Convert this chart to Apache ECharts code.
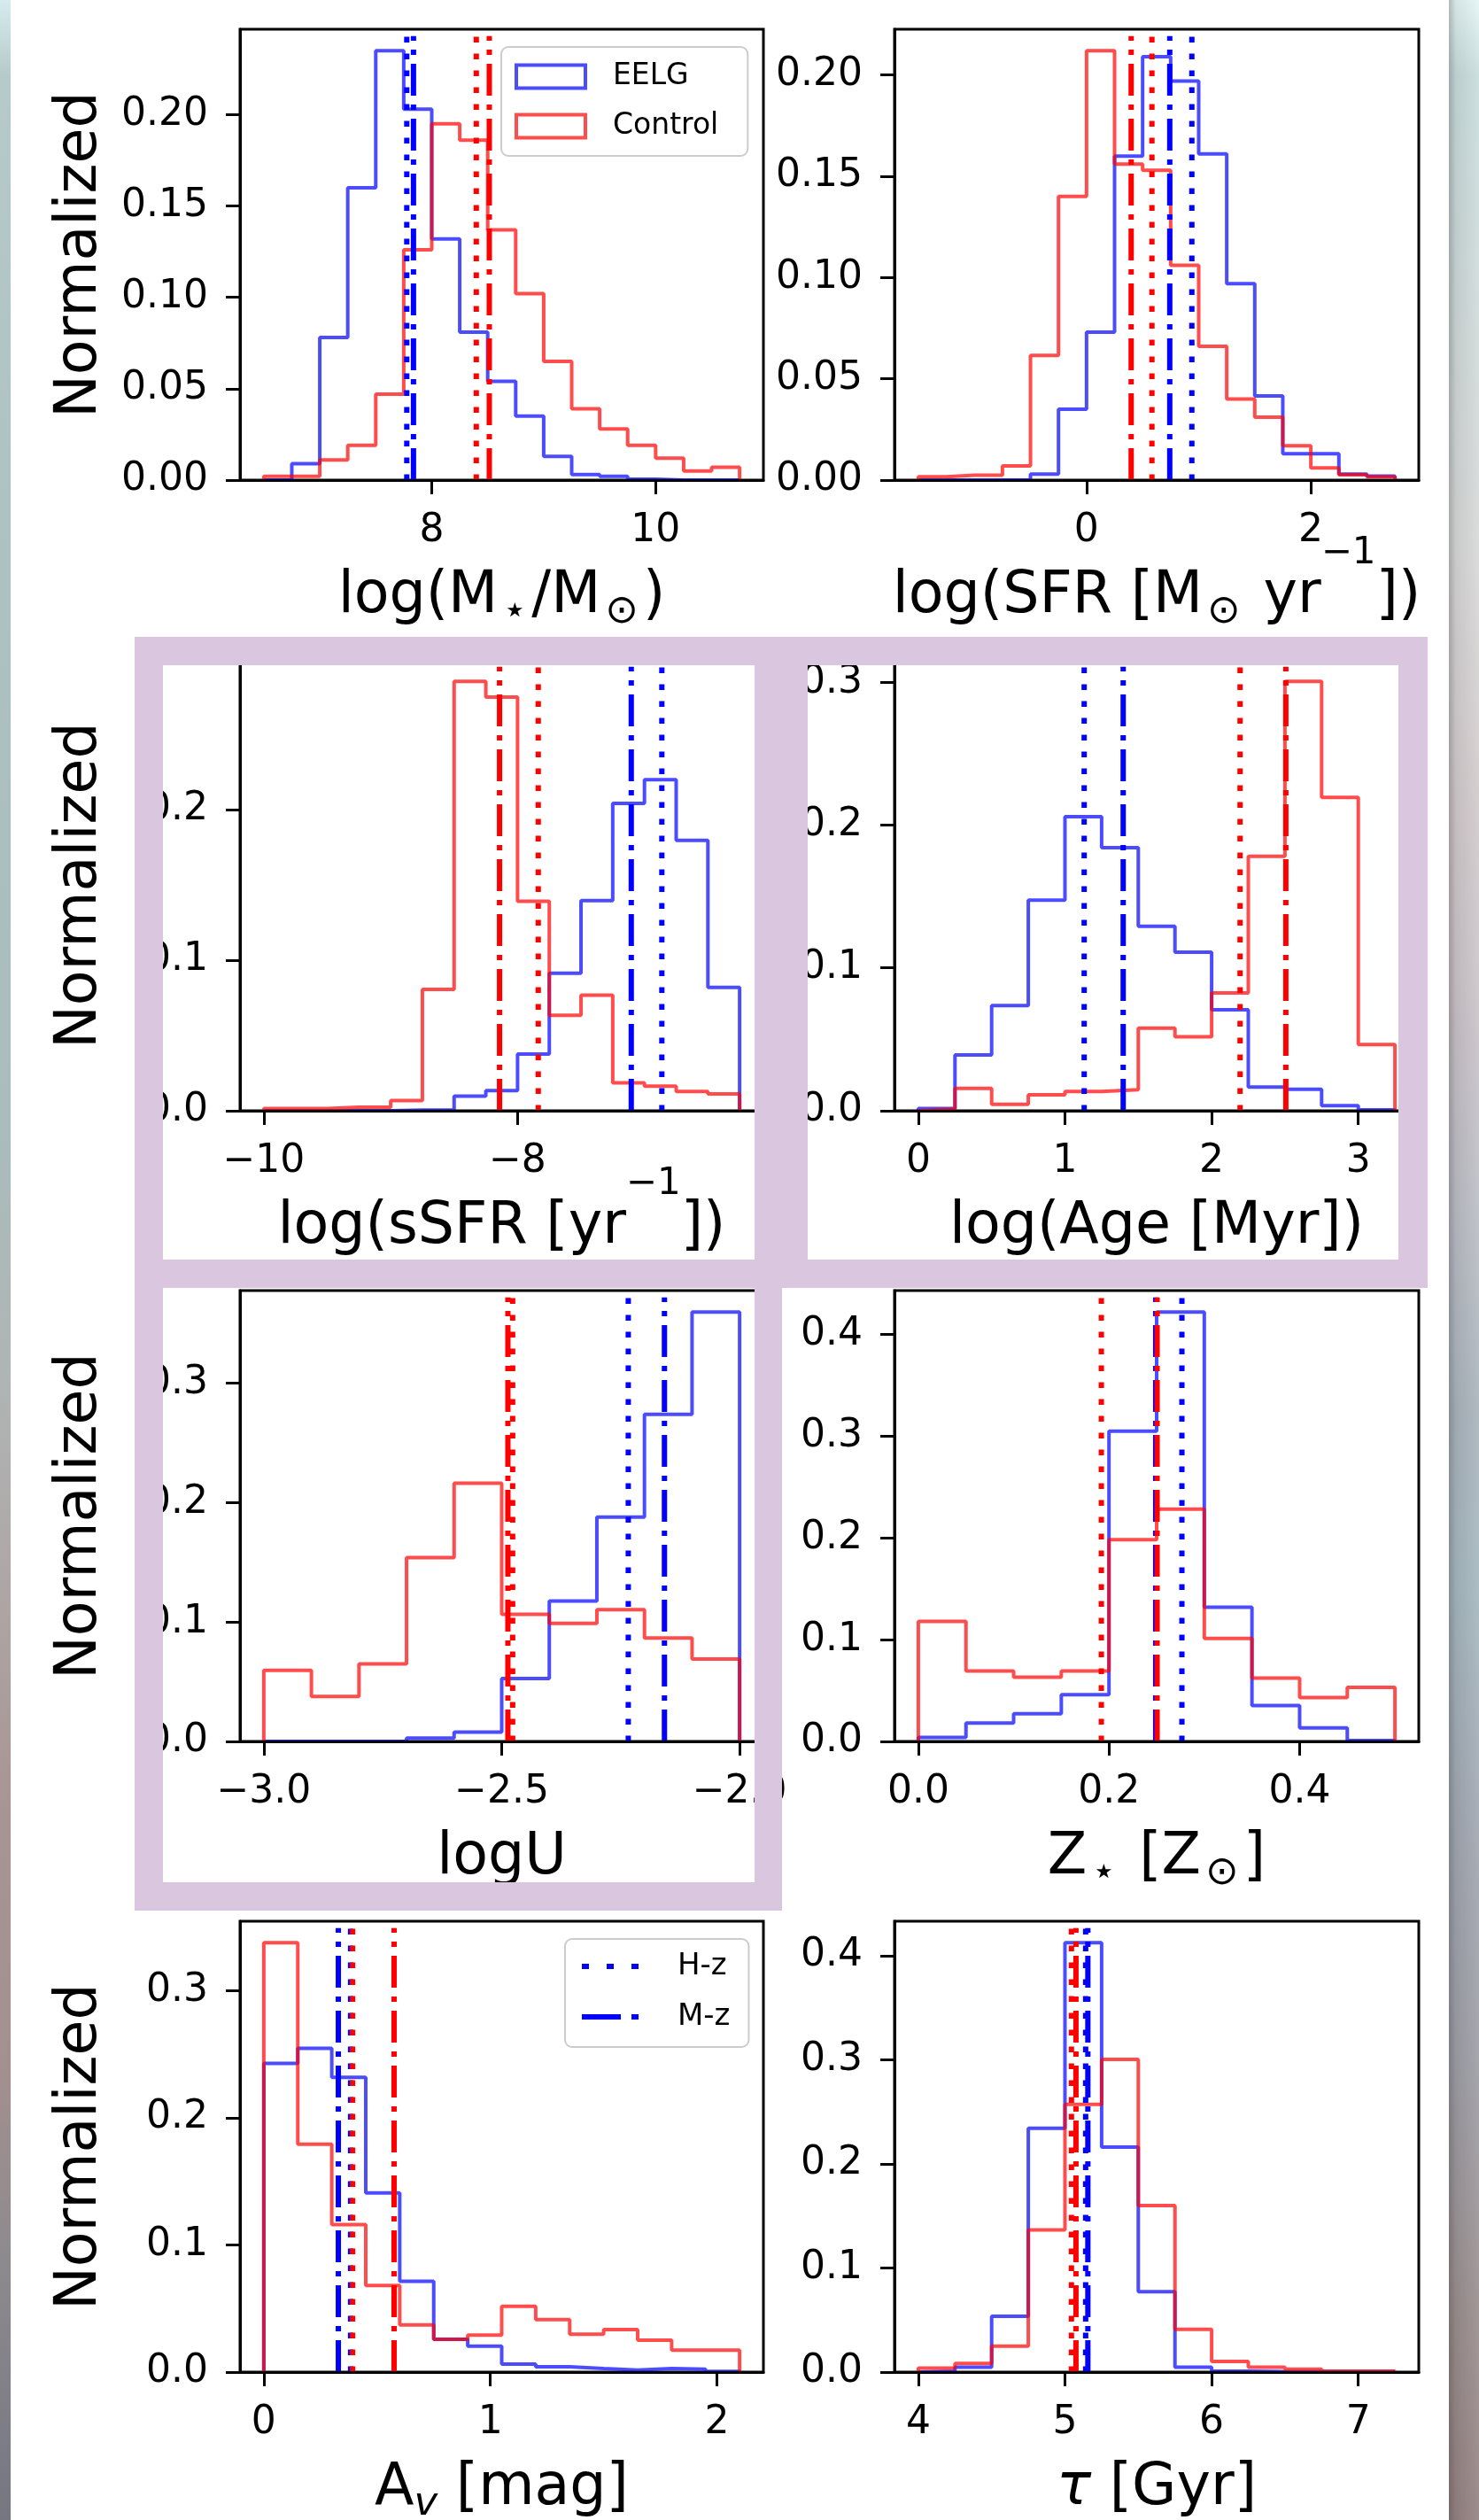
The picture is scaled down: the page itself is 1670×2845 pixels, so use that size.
<!DOCTYPE html>
<html><head><meta charset="utf-8">
<script src="https://cdn.jsdelivr.net/npm/echarts@6.0.0/dist/echarts.min.js"></script>
<style>
html,body{margin:0;padding:0;background:#fff;}
#wrap{position:relative;width:1670px;height:2845px;overflow:hidden;background:#fff;}
#stripL{position:absolute;left:0;top:0;width:12px;height:2845px;
 background:linear-gradient(to bottom,#d6ecec 0%,#b6caca 3%,#aec2c2 20%,#aabcbc 45%,#b0b4b4 55%,#aea6a6 63%,#a89494 72%,#a39090 82%,#8c8a8e 90%,#767680 100%);}
#stripR{position:absolute;left:1636px;top:0;width:34px;height:2845px;
 background:linear-gradient(to right,rgba(40,40,40,0.28) 0px,rgba(40,40,40,0.08) 8px,rgba(255,255,255,0.08) 34px),
 linear-gradient(to bottom,#e4f4f4 0%,#c8dcdc 3%,#d0dada 12%,#d8d8d8 22%,#d2cacc 32%,#cbc3c9 40%,#bcbec6 48%,#aab4bc 56%,#a6b8c0 63%,#a2a8b2 72%,#9e9ea6 82%,#9a8e8e 92%,#958282 100%);}
#chart{position:absolute;left:0;top:0;width:1670px;height:2845px;}
</style></head>
<body><div id="wrap"><div id="stripL"></div><div id="stripR"></div><div id="chart"></div></div>
<script>
// ---------------- DATA ----------------
// log(M*/Msun)
const massEdges   = [6.5,6.75,7.0,7.25,7.5,7.75,8.0,8.25,8.5,8.75,9.0,9.25,9.5,9.75,10.0,10.25,10.5,10.75];
const massEELG    = [0,0.009,0.078,0.160,0.235,0.203,0.132,0.081,0.054,0.035,0.013,0.003,0.002,0.0005,0,0,0];
const massControl = [0.002,0.002,0.011,0.019,0.047,0.126,0.195,0.186,0.137,0.102,0.065,0.039,0.028,0.019,0.012,0.005,0.007];
const massMedians = [7.777,7.837,8.398,8.514]; // EELG H-z, EELG M-z, Control H-z, Control M-z
const massXTicks  = [8,10];
const massYTicks  = [0,0.05,0.10,0.15,0.20];
// log(SFR)
const sfrEdges    = [-1.5,-1.25,-1.0,-0.75,-0.5,-0.25,0,0.25,0.5,0.75,1.0,1.25,1.5,1.75,2.0,2.25,2.5,2.75];
const sfrEELG     = [0,0,0,0,0.003,0.035,0.073,0.160,0.209,0.197,0.161,0.097,0.0415,0.013,0.013,0.003,0.002];
const sfrControl  = [0.0016,0.0024,0.0024,0.007,0.0616,0.140,0.212,0.156,0.153,0.106,0.066,0.040,0.031,0.017,0.006,0.0026,0.0016];
const sfrMedians  = [0.939,0.742,0.583,0.398];
const sfrXTicks   = [0,2];
const sfrYTicks   = [0,0.05,0.10,0.15,0.20];
// log(sSFR)
const ssfrEdges   = [-10,-9.75,-9.5,-9.25,-9,-8.75,-8.5,-8.25,-8,-7.75,-7.5,-7.25,-7,-6.75,-6.5,-6.25];
const ssfrEELG    = [0,0,0,0,0.0005,0.0005,0.0097,0.0134,0.0377,0.0913,0.1395,0.204,0.2197,0.1795,0.0819];
const ssfrControl = [0.0014,0.0014,0.0023,0.0023,0.0068,0.0805,0.285,0.2745,0.139,0.0633,0.0767,0.0185,0.0163,0.0128,0.0111];
const ssfrMedians = [-6.863,-7.104,-7.837,-8.142];
const ssfrXTicks  = [-10,-8];
const ssfrYTicks  = [0,0.1,0.2];
// log(Age)
const ageEdges    = [0,0.25,0.5,0.75,1.0,1.25,1.5,1.75,2.0,2.25,2.5,2.75,3.0,3.25];
const ageEELG     = [0.0015,0.0391,0.0737,0.1475,0.2058,0.1842,0.1291,0.111,0.0707,0.0166,0.015,0.0036,0.0006];
const ageControl  = [0.0012,0.0156,0.0045,0.0111,0.0135,0.0147,0.0578,0.0518,0.0825,0.1782,0.3006,0.2194,0.0463];
const ageMedians  = [1.131,1.397,2.194,2.506];
const ageXTicks   = [0,1,2,3];
const ageYTicks   = [0,0.1,0.2,0.3];
// logU
const loguEdges   = [-3.0,-2.9,-2.8,-2.7,-2.6,-2.5,-2.4,-2.3,-2.2,-2.1,-2.0];
const loguEELG    = [0,0,0,0.0027,0.0078,0.0527,0.1176,0.1879,0.2739,0.3595];
const loguControl = [0.0595,0.0377,0.0649,0.1539,0.2161,0.1064,0.0989,0.1104,0.0866,0.069];
const loguMedians = [-2.234,-2.158,-2.477,-2.487];
const loguXTicks  = [-3.0,-2.5,-2.0];
const loguYTicks  = [0,0.1,0.2,0.3];
// Z*
const zEdges      = [0,0.05,0.1,0.15,0.2,0.25,0.3,0.35,0.4,0.45,0.5];
const zEELG       = [0.004,0.018,0.0272,0.046,0.305,0.422,0.1319,0.0352,0.0132,0.0008];
const zControl    = [0.1179,0.0691,0.0631,0.0691,0.1982,0.2282,0.1011,0.0623,0.0432,0.0532];
const zMedians    = [0.2765,0.249,0.192,0.2505];
const zXTicks     = [0.0,0.2,0.4];
const zYTicks     = [0,0.1,0.2,0.3,0.4];
// Av
const avEdges     = [0,0.15,0.3,0.45,0.6,0.75,0.9,1.05,1.2,1.35,1.5,1.65,1.8,1.95,2.1];
const avEELG      = [0.2427,0.2546,0.2318,0.1409,0.0714,0.0257,0.0204,0.0063,0.0041,0.0028,0.0016,0.0028,0.0022,0.0006];
const avControl   = [0.3376,0.1791,0.1159,0.068,0.037,0.0257,0.0291,0.0517,0.0413,0.0298,0.0335,0.0251,0.0172,0.0172];
const avMedians   = [0.383,0.329,0.392,0.575];
const avXTicks    = [0,1,2];
const avYTicks    = [0,0.1,0.2,0.3];
// tau
const tauEdges    = [4,4.25,4.5,4.75,5,5.25,5.5,5.75,6,6.25,6.5,6.75,7,7.25];
const tauEELG     = [0.0008,0.0046,0.0536,0.2342,0.4125,0.2162,0.0773,0.0046,0.0008,0.0004,0.0004,0.0004,0.0004];
const tauControl  = [0.0038,0.0084,0.0249,0.1366,0.2572,0.3004,0.16,0.041,0.0103,0.0046,0.0027,0.0008,0.0008];
const tauMedians  = [5.141,5.156,5.044,5.075];
const tauXTicks   = [4,5,6,7];
const tauYTicks   = [0,0.1,0.2,0.3,0.4];

// ---------------- STYLE / LAYOUT ----------------
const F = 'DejaVu Sans';
const BLUE_H = 'rgba(0,0,255,0.7)', RED_H = 'rgba(255,0,0,0.7)';
const DOT = [6.5,12.5], DASHDOT = [36,10,6,10];
const ROW_TOP = [33,745,1457,2169], PH = 509, COL_LEFT = [271,1010], PW = [591,592];
const PURPLE = '#dbc6e0';

const RICH = {
  m:  {fontFamily:F,fontSize:65,color:'#000',lineHeight:80,verticalAlign:'middle'},
  M:  {fontFamily:F,fontSize:65,color:'#000',lineHeight:140,verticalAlign:'middle'},
  mi: {fontFamily:F,fontSize:65,color:'#000',fontStyle:'italic',lineHeight:80,verticalAlign:'middle'},
  sb: {fontFamily:F,fontSize:45,color:'#000',lineHeight:44,verticalAlign:'bottom',padding:[0,5,0,5]},
  sB: {fontFamily:F,fontSize:45,color:'#000',lineHeight:44,verticalAlign:'bottom',padding:[0,5,30,5]},
  si: {fontFamily:F,fontSize:45,color:'#000',fontStyle:'italic',lineHeight:44,verticalAlign:'bottom'},
  sp: {fontFamily:F,fontSize:42,color:'#000',lineHeight:42,verticalAlign:'top'}
};

const panels = [
  {edges:massEdges,eelg:massEELG,ctrl:massControl,med:massMedians,xt:massXTicks,yt:massYTicks,xd:0,yd:2,
   label:'{m|log(M}{sb|⋆}{m|/M}{sb|⊙}{m|)}',gap:92},
  {edges:sfrEdges,eelg:sfrEELG,ctrl:sfrControl,med:sfrMedians,xt:sfrXTicks,yt:sfrYTicks,xd:0,yd:2,
   label:'{M|log(SFR [M}{sB|⊙}{M| yr}{sp|−1}{M|])}',gap:62},
  {edges:ssfrEdges,eelg:ssfrEELG,ctrl:ssfrControl,med:ssfrMedians,xt:ssfrXTicks,yt:ssfrYTicks,xd:0,yd:1,
   label:'{M|log(sSFR [yr}{sp|−1}{M|])}',gap:62},
  {edges:ageEdges,eelg:ageEELG,ctrl:ageControl,med:ageMedians,xt:ageXTicks,yt:ageYTicks,xd:0,yd:1,
   label:'{m|log(Age [Myr])}',gap:92},
  {edges:loguEdges,eelg:loguEELG,ctrl:loguControl,med:loguMedians,xt:loguXTicks,yt:loguYTicks,xd:1,yd:1,
   label:'{m|logU}',gap:92},
  {edges:zEdges,eelg:zEELG,ctrl:zControl,med:zMedians,xt:zXTicks,yt:zYTicks,xd:1,yd:1,
   label:'{m|Z}{sb|⋆}{m| [Z}{sb|⊙}{m|]}',gap:92},
  {edges:avEdges,eelg:avEELG,ctrl:avControl,med:avMedians,xt:avXTicks,yt:avYTicks,xd:0,yd:1,
   label:'{m|A}{si|v}{m| [mag]}',gap:92},
  {edges:tauEdges,eelg:tauEELG,ctrl:tauControl,med:tauMedians,xt:tauXTicks,yt:tauYTicks,xd:0,yd:1,
   label:'{mi|τ}{m| [Gyr]}',gap:92}
];

function fmt(d){ return function(v){ const s=Math.abs(v).toFixed(d); return (v < -1e-9 ? '\u2212' : '') + s; }; }
function stepPoints(edges, vals){
  const pts=[[edges[0],0]];
  for(let i=0;i<vals.length;i++){ pts.push([edges[i],vals[i]]); pts.push([edges[i+1],vals[i]]); }
  pts.push([edges[edges.length-1],0]);
  return pts;
}

const grids=[], xAxes=[], yAxes=[], series=[];
panels.forEach(function(p,i){
  const col=i%2, row=Math.floor(i/2);
  const lo=p.edges[0], hi=p.edges[p.edges.length-1], pad=0.05*(hi-lo);
  const ymax=1.05*Math.max.apply(null,p.eelg.concat(p.ctrl));
  grids.push({left:COL_LEFT[col],top:ROW_TOP[row],width:PW[col],height:PH,show:true,
    borderColor:'#000',borderWidth:3,backgroundColor:'rgba(0,0,0,0)',containLabel:false,outerBoundsMode:'none'});
  xAxes.push({type:'value',gridIndex:i,min:lo-pad,max:hi+pad,position:'bottom',z:5,
    axisLine:{show:true,onZero:false,lineStyle:{color:'#000',width:3}},
    splitLine:{show:false},
    axisTick:{show:true,inside:false,length:16,lineStyle:{color:'#000',width:3},customValues:p.xt},
    axisLabel:{show:true,margin:36,fontSize:44,fontFamily:F,color:'#000',formatter:fmt(p.xd),customValues:p.xt,hideOverlap:false},
    name:p.label,nameLocation:'middle',nameGap:p.gap,nameMoveOverlap:false,
    nameTextStyle:{fontFamily:F,fontSize:65,color:'#000',rich:RICH}});
  const ya={type:'value',gridIndex:i,min:0,max:ymax,position:'left',z:5,
    axisLine:{show:true,onZero:false,lineStyle:{color:'#000',width:3}},
    splitLine:{show:false},
    axisTick:{show:true,inside:false,length:16,lineStyle:{color:'#000',width:3},customValues:p.yt},
    axisLabel:{show:true,margin:36,fontSize:44,fontFamily:F,color:'#000',formatter:fmt(p.yd),customValues:p.yt,hideOverlap:false}};
  if(col===0){ ya.name='Normalized'; ya.nameLocation='middle'; ya.nameGap=147; ya.nameMoveOverlap=false;
    ya.nameTextStyle={fontFamily:F,fontSize:65,color:'#000'}; }
  yAxes.push(ya);
  const base={type:'line',xAxisIndex:i,yAxisIndex:i,symbol:'none',showSymbol:false,clip:false,silent:true,animation:false};
  series.push(Object.assign({},base,{name:'EELG',data:stepPoints(p.edges,p.eelg),lineStyle:{color:BLUE_H,width:4},itemStyle:{color:BLUE_H}}));
  series.push(Object.assign({},base,{name:'Control',data:stepPoints(p.edges,p.ctrl),lineStyle:{color:RED_H,width:4},itemStyle:{color:RED_H}}));
  const top=ymax*0.985;
  const meds=[['H-z','#0000ff',DOT,p.med[0]],['M-z','#0000ff',DASHDOT,p.med[1]],
              ['H-z Control','#ff0000',DOT,p.med[2]],['M-z Control','#ff0000',DASHDOT,p.med[3]]];
  meds.forEach(function(m){
    series.push(Object.assign({},base,{name:m[0],data:[[m[3],0],[m[3],top]],
      lineStyle:{color:m[1],width:6,type:m[2]},itemStyle:{color:m[1]}}));
  });
});

function prect(x,y,w,h){ return {type:'rect',shape:{x:x,y:y,width:w,height:h},style:{fill:PURPLE},z:100,silent:true}; }
const graphics=[
  // box around sSFR / Age panels
  prect(152,719,1460,32), prect(152,719,32,735), prect(852,719,60,735), prect(1579,719,33,735), prect(152,1422,1460,32),
  // box around logU panel
  prect(152,1422,32,735), prect(852,1422,31,735), prect(152,2125,731,32)
];

const chart=echarts.init(document.getElementById('chart'),null,{renderer:'canvas',width:1670,height:2845});
chart.setOption({
  animation:false,
  backgroundColor:'rgba(0,0,0,0)',
  grid:grids, xAxis:xAxes, yAxis:yAxes, series:series,
  legend:[
    {data:[{name:'EELG',icon:'rect',itemStyle:{color:'rgba(0,0,0,0)',borderColor:BLUE_H,borderWidth:4}},
           {name:'Control',icon:'rect',itemStyle:{color:'rgba(0,0,0,0)',borderColor:RED_H,borderWidth:4}}],
     orient:'vertical',left:566,top:53,itemWidth:78,itemHeight:26,itemGap:23,padding:[17,33,17,15],
     backgroundColor:'rgba(255,255,255,0.8)',borderColor:'#cccccc',borderWidth:2,borderRadius:8,selectedMode:false,
     textStyle:{fontFamily:F,fontSize:33,color:'#000',padding:[0,0,0,26]},z:20},
    {data:[{name:'H-z',itemStyle:{color:'rgba(0,0,0,0)',borderColor:'rgba(0,0,0,0)',borderWidth:0,opacity:0},lineStyle:{color:'#0000ff',width:6,type:[8,20]}},
           {name:'M-z',itemStyle:{color:'rgba(0,0,0,0)',borderColor:'rgba(0,0,0,0)',borderWidth:0,opacity:0},lineStyle:{color:'#0000ff',width:6,type:[44,12,8,12]}}],
     orient:'vertical',left:638,top:2189,itemWidth:64,itemHeight:34,itemGap:23,padding:[14,21,17,16],
     backgroundColor:'rgba(255,255,255,0.8)',borderColor:'#cccccc',borderWidth:2,borderRadius:8,selectedMode:false,
     textStyle:{fontFamily:F,fontSize:34,color:'#000',padding:[0,0,0,39]},z:20}
  ],
  graphic:graphics
});
</script>
</body></html>
